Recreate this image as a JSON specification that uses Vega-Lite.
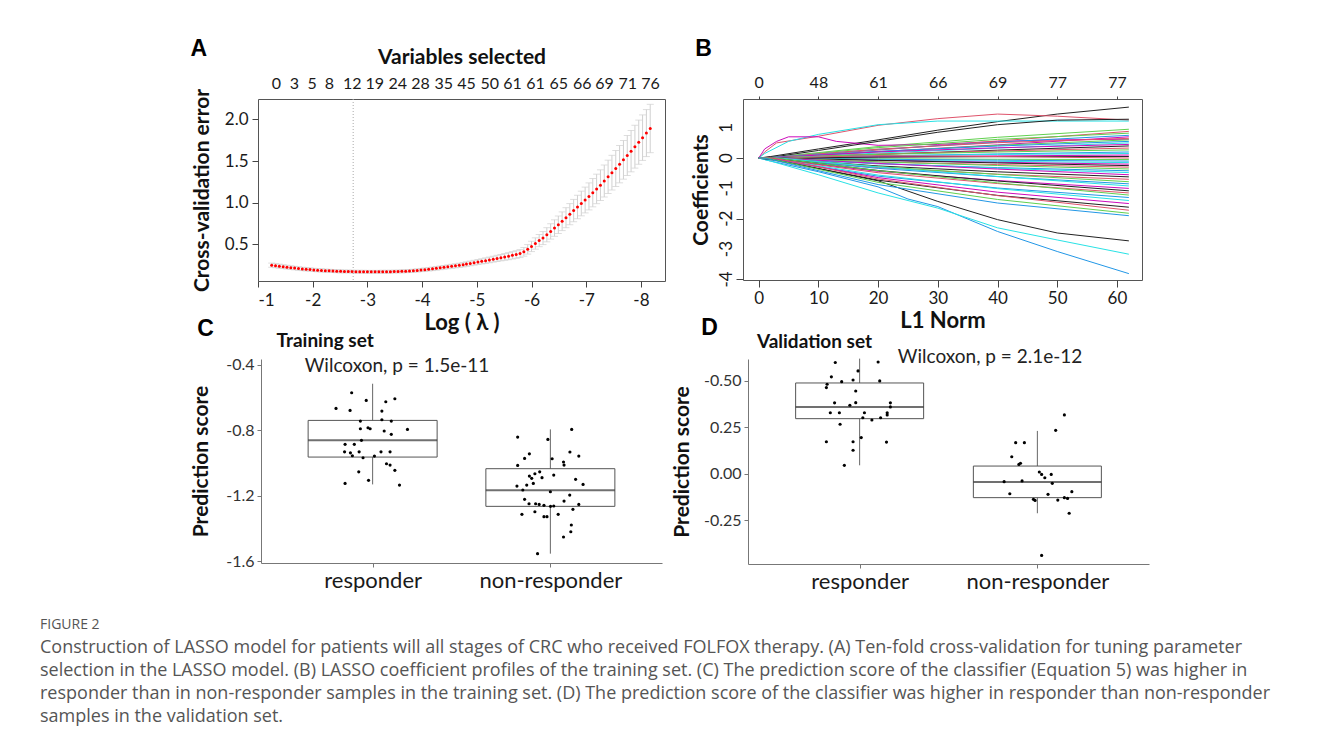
{
"padding": {"left": 40, "top": 37, "right": 0, "bottom": 0},
"background": "white",
"spacing": -24,
"config": {
  "view": {"stroke": null},
  "font": "Lato",
  "axis": {"grid": false, "labelFont": "Lato", "titleFont": "Lato", "labelColor": "#1a1a1a", "titleColor": "#111", "tickColor": "#444", "domainColor": "#444", "labelOverlap": false},
  "text": {"font": "Lato"}
},
"datasets": {
  "cv": [
{"lam":-1.25,"cvm":0.250,"cvsd":0.025},{"lam":-1.32,"cvm":0.244,"cvsd":0.024},{"lam":-1.39,"cvm":0.238,"cvsd":0.024},{"lam":-1.46,"cvm":0.232,"cvsd":0.023},{"lam":-1.53,"cvm":0.226,"cvsd":0.023},
{"lam":-1.60,"cvm":0.220,"cvsd":0.022},{"lam":-1.67,"cvm":0.215,"cvsd":0.021},{"lam":-1.74,"cvm":0.210,"cvsd":0.021},{"lam":-1.81,"cvm":0.205,"cvsd":0.020},{"lam":-1.88,"cvm":0.201,"cvsd":0.020},
{"lam":-1.95,"cvm":0.197,"cvsd":0.020},{"lam":-2.02,"cvm":0.193,"cvsd":0.019},{"lam":-2.09,"cvm":0.190,"cvsd":0.019},{"lam":-2.16,"cvm":0.187,"cvsd":0.019},{"lam":-2.23,"cvm":0.184,"cvsd":0.018},
{"lam":-2.30,"cvm":0.182,"cvsd":0.018},{"lam":-2.37,"cvm":0.180,"cvsd":0.018},{"lam":-2.44,"cvm":0.178,"cvsd":0.018},{"lam":-2.51,"cvm":0.176,"cvsd":0.018},{"lam":-2.58,"cvm":0.175,"cvsd":0.017},
{"lam":-2.65,"cvm":0.174,"cvsd":0.017},{"lam":-2.72,"cvm":0.173,"cvsd":0.017},{"lam":-2.79,"cvm":0.172,"cvsd":0.017},{"lam":-2.86,"cvm":0.171,"cvsd":0.017},{"lam":-2.93,"cvm":0.171,"cvsd":0.017},
{"lam":-3.00,"cvm":0.170,"cvsd":0.017},{"lam":-3.07,"cvm":0.170,"cvsd":0.017},{"lam":-3.14,"cvm":0.170,"cvsd":0.017},{"lam":-3.21,"cvm":0.170,"cvsd":0.017},{"lam":-3.28,"cvm":0.171,"cvsd":0.017},
{"lam":-3.35,"cvm":0.171,"cvsd":0.017},{"lam":-3.42,"cvm":0.172,"cvsd":0.017},{"lam":-3.49,"cvm":0.173,"cvsd":0.017},{"lam":-3.56,"cvm":0.174,"cvsd":0.017},{"lam":-3.63,"cvm":0.176,"cvsd":0.018},
{"lam":-3.70,"cvm":0.178,"cvsd":0.018},{"lam":-3.77,"cvm":0.180,"cvsd":0.018},{"lam":-3.84,"cvm":0.183,"cvsd":0.018},{"lam":-3.91,"cvm":0.187,"cvsd":0.019},{"lam":-3.98,"cvm":0.192,"cvsd":0.019},
{"lam":-4.05,"cvm":0.196,"cvsd":0.020},{"lam":-4.12,"cvm":0.201,"cvsd":0.020},{"lam":-4.19,"cvm":0.206,"cvsd":0.021},{"lam":-4.26,"cvm":0.212,"cvsd":0.021},{"lam":-4.33,"cvm":0.218,"cvsd":0.022},
{"lam":-4.40,"cvm":0.224,"cvsd":0.022},{"lam":-4.47,"cvm":0.230,"cvsd":0.023},{"lam":-4.54,"cvm":0.236,"cvsd":0.024},{"lam":-4.61,"cvm":0.242,"cvsd":0.024},{"lam":-4.68,"cvm":0.248,"cvsd":0.025},
{"lam":-4.75,"cvm":0.255,"cvsd":0.026},{"lam":-4.81,"cvm":0.263,"cvsd":0.027},{"lam":-4.88,"cvm":0.271,"cvsd":0.028},{"lam":-4.95,"cvm":0.279,"cvsd":0.029},{"lam":-5.02,"cvm":0.288,"cvsd":0.030},
{"lam":-5.09,"cvm":0.296,"cvsd":0.031},{"lam":-5.16,"cvm":0.304,"cvsd":0.033},{"lam":-5.23,"cvm":0.313,"cvsd":0.034},{"lam":-5.30,"cvm":0.322,"cvsd":0.035},{"lam":-5.37,"cvm":0.331,"cvsd":0.037},
{"lam":-5.44,"cvm":0.340,"cvsd":0.038},{"lam":-5.51,"cvm":0.349,"cvsd":0.040},{"lam":-5.58,"cvm":0.358,"cvsd":0.042},{"lam":-5.65,"cvm":0.368,"cvsd":0.044},{"lam":-5.72,"cvm":0.378,"cvsd":0.046},
{"lam":-5.79,"cvm":0.389,"cvsd":0.048},{"lam":-5.86,"cvm":0.410,"cvsd":0.052},{"lam":-5.93,"cvm":0.440,"cvsd":0.057},{"lam":-6.00,"cvm":0.475,"cvsd":0.062},{"lam":-6.07,"cvm":0.510,"cvsd":0.068},
{"lam":-6.14,"cvm":0.545,"cvsd":0.073},{"lam":-6.21,"cvm":0.575,"cvsd":0.078},{"lam":-6.28,"cvm":0.615,"cvsd":0.085},{"lam":-6.35,"cvm":0.655,"cvsd":0.092},{"lam":-6.42,"cvm":0.695,"cvsd":0.099},
{"lam":-6.49,"cvm":0.735,"cvsd":0.105},{"lam":-6.56,"cvm":0.777,"cvsd":0.112},{"lam":-6.63,"cvm":0.820,"cvsd":0.120},{"lam":-6.70,"cvm":0.862,"cvsd":0.127},{"lam":-6.77,"cvm":0.905,"cvsd":0.134},
{"lam":-6.84,"cvm":0.948,"cvsd":0.141},{"lam":-6.91,"cvm":0.990,"cvsd":0.148},{"lam":-6.98,"cvm":1.032,"cvsd":0.155},{"lam":-7.05,"cvm":1.075,"cvsd":0.162},{"lam":-7.12,"cvm":1.120,"cvsd":0.170},
{"lam":-7.19,"cvm":1.165,"cvsd":0.177},{"lam":-7.26,"cvm":1.210,"cvsd":0.184},{"lam":-7.33,"cvm":1.260,"cvsd":0.192},{"lam":-7.40,"cvm":1.310,"cvsd":0.200},{"lam":-7.47,"cvm":1.360,"cvsd":0.208},
{"lam":-7.54,"cvm":1.410,"cvsd":0.216},{"lam":-7.61,"cvm":1.462,"cvsd":0.224},{"lam":-7.68,"cvm":1.514,"cvsd":0.232},{"lam":-7.75,"cvm":1.566,"cvsd":0.240},{"lam":-7.82,"cvm":1.618,"cvsd":0.248},
{"lam":-7.89,"cvm":1.672,"cvsd":0.257},{"lam":-7.96,"cvm":1.726,"cvsd":0.265},{"lam":-8.03,"cvm":1.780,"cvsd":0.273},{"lam":-8.10,"cvm":1.835,"cvsd":0.282},{"lam":-8.17,"cvm":1.890,"cvsd":0.290}
  ],
  "nz": [
{"lam":-1.329,"nvar":0},{"lam":-1.658,"nvar":3},{"lam":-1.982,"nvar":5},{"lam":-2.298,"nvar":8},{"lam":-2.713,"nvar":12},{"lam":-3.126,"nvar":19},
{"lam":-3.547,"nvar":24},{"lam":-3.962,"nvar":28},{"lam":-4.388,"nvar":35},{"lam":-4.803,"nvar":45},{"lam":-5.229,"nvar":50},{"lam":-5.644,"nvar":61},
{"lam":-6.064,"nvar":61},{"lam":-6.49,"nvar":65},{"lam":-6.918,"nvar":66},{"lam":-7.325,"nvar":69},{"lam":-7.751,"nvar":71},{"lam":-8.166,"nvar":76}
  ],
  "ylabB": [{"v":1,"lab":"1"},{"v":0,"lab":"0"},{"v":-1,"lab":"-1"},{"v":-2,"lab":"-2"},{"v":-3,"lab":"-3"},{"v":-4,"lab":"-4"}],
  "paths": [
{"var":1,"norm":0,"coef":0},{"var":1,"norm":2,"coef":0.05},{"var":1,"norm":10,"coef":0.3},{"var":1,"norm":20,"coef":0.6},{"var":1,"norm":30,"coef":0.92},{"var":1,"norm":40,"coef":1.2},{"var":1,"norm":50,"coef":1.45},{"var":1,"norm":62,"coef":1.68},
{"var":2,"norm":0,"coef":0},{"var":2,"norm":1,"coef":0.2},{"var":2,"norm":3,"coef":0.5},{"var":2,"norm":10,"coef":0.72},{"var":2,"norm":20,"coef":1.08},{"var":2,"norm":30,"coef":1.3},{"var":2,"norm":40,"coef":1.45},{"var":2,"norm":50,"coef":1.38},{"var":2,"norm":62,"coef":1.25},
{"var":3,"norm":0,"coef":0},{"var":3,"norm":1,"coef":0},{"var":3,"norm":20,"coef":0.38},{"var":3,"norm":40,"coef":0.684},{"var":3,"norm":62,"coef":0.95},
{"var":4,"norm":0,"coef":0},{"var":4,"norm":2,"coef":-0.1},{"var":4,"norm":10,"coef":-0.45},{"var":4,"norm":20,"coef":-0.95},{"var":4,"norm":25,"coef":-1.35},{"var":4,"norm":30,"coef":-1.6},{"var":4,"norm":40,"coef":-2.42},{"var":4,"norm":50,"coef":-3.08},{"var":4,"norm":62,"coef":-3.81},
{"var":5,"norm":0,"coef":0},{"var":5,"norm":1,"coef":0.15},{"var":5,"norm":5,"coef":0.55},{"var":5,"norm":10,"coef":0.78},{"var":5,"norm":20,"coef":1.1},{"var":5,"norm":30,"coef":1.22},{"var":5,"norm":40,"coef":1.22},{"var":5,"norm":50,"coef":1.22},{"var":5,"norm":62,"coef":1.22},
{"var":6,"norm":0,"coef":0},{"var":6,"norm":1,"coef":0.3},{"var":6,"norm":3,"coef":0.55},{"var":6,"norm":5,"coef":0.7},{"var":6,"norm":10,"coef":0.7},{"var":6,"norm":13,"coef":0.55},{"var":6,"norm":20,"coef":0.42},{"var":6,"norm":30,"coef":0.45},{"var":6,"norm":40,"coef":0.55},{"var":6,"norm":50,"coef":0.6},{"var":6,"norm":62,"coef":0.62},
{"var":7,"norm":0,"coef":0},{"var":7,"norm":3,"coef":0.05},{"var":7,"norm":10,"coef":0.25},{"var":7,"norm":20,"coef":0.55},{"var":7,"norm":30,"coef":0.85},{"var":7,"norm":40,"coef":1.1},{"var":7,"norm":50,"coef":1.25},{"var":7,"norm":62,"coef":1.28},
{"var":8,"norm":0,"coef":0},{"var":8,"norm":2.5,"coef":0},{"var":8,"norm":20,"coef":0.264},{"var":8,"norm":40,"coef":0.563},{"var":8,"norm":62,"coef":0.88},
{"var":9,"norm":0,"coef":0},{"var":9,"norm":1.5,"coef":0},{"var":9,"norm":20,"coef":0.344},{"var":9,"norm":40,"coef":0.615},{"var":9,"norm":62,"coef":0.82},
{"var":10,"norm":0,"coef":0},{"var":10,"norm":0.8,"coef":0},{"var":10,"norm":20,"coef":0.285},{"var":10,"norm":40,"coef":0.525},{"var":10,"norm":62,"coef":0.75},
{"var":11,"norm":0,"coef":0},{"var":11,"norm":2,"coef":-0.1},{"var":11,"norm":10,"coef":-0.55},{"var":11,"norm":20,"coef":-1.15},{"var":11,"norm":30,"coef":-1.65},{"var":11,"norm":40,"coef":-2.3},{"var":11,"norm":50,"coef":-2.7},{"var":11,"norm":62,"coef":-3.17},
{"var":12,"norm":0,"coef":0},{"var":12,"norm":3,"coef":0},{"var":12,"norm":20,"coef":0.21},{"var":12,"norm":40,"coef":0.434},{"var":12,"norm":62,"coef":0.7},
{"var":13,"norm":0,"coef":0},{"var":13,"norm":3,"coef":-0.08},{"var":13,"norm":10,"coef":-0.35},{"var":13,"norm":20,"coef":-0.75},{"var":13,"norm":30,"coef":-1.43},{"var":13,"norm":40,"coef":-2.03},{"var":13,"norm":50,"coef":-2.47},{"var":13,"norm":62,"coef":-2.73},
{"var":14,"norm":0,"coef":0},{"var":14,"norm":1.2,"coef":0},{"var":14,"norm":20,"coef":0.293},{"var":14,"norm":40,"coef":0.507},{"var":14,"norm":62,"coef":0.65},
{"var":15,"norm":0,"coef":0},{"var":15,"norm":2,"coef":0},{"var":15,"norm":20,"coef":0.21},{"var":15,"norm":40,"coef":0.42},{"var":15,"norm":62,"coef":0.6},
{"var":16,"norm":0,"coef":0},{"var":16,"norm":0.6,"coef":0},{"var":16,"norm":20,"coef":0.22},{"var":16,"norm":40,"coef":0.396},{"var":16,"norm":62,"coef":0.55},
{"var":17,"norm":0,"coef":0},{"var":17,"norm":2.8,"coef":0},{"var":17,"norm":20,"coef":0.165},{"var":17,"norm":40,"coef":0.33},{"var":17,"norm":62,"coef":0.5},
{"var":18,"norm":0,"coef":0},{"var":18,"norm":1,"coef":0},{"var":18,"norm":20,"coef":0.203},{"var":18,"norm":40,"coef":0.338},{"var":18,"norm":62,"coef":0.45},
{"var":19,"norm":0,"coef":0},{"var":19,"norm":3.5,"coef":0},{"var":19,"norm":20,"coef":0.12},{"var":19,"norm":40,"coef":0.26},{"var":19,"norm":62,"coef":0.4},
{"var":20,"norm":0,"coef":0},{"var":20,"norm":1.8,"coef":0},{"var":20,"norm":20,"coef":0.132},{"var":20,"norm":40,"coef":0.231},{"var":20,"norm":62,"coef":0.33},
{"var":21,"norm":0,"coef":0},{"var":21,"norm":0.9,"coef":0},{"var":21,"norm":20,"coef":0.122},{"var":21,"norm":40,"coef":0.2},{"var":21,"norm":62,"coef":0.27},
{"var":22,"norm":0,"coef":0},{"var":22,"norm":2.2,"coef":0},{"var":22,"norm":20,"coef":0.07},{"var":22,"norm":40,"coef":0.136},{"var":22,"norm":62,"coef":0.2},
{"var":23,"norm":0,"coef":0},{"var":23,"norm":1.4,"coef":0},{"var":23,"norm":20,"coef":0.075},{"var":23,"norm":40,"coef":0.12},{"var":23,"norm":62,"coef":0.15},
{"var":24,"norm":0,"coef":0},{"var":24,"norm":3,"coef":0},{"var":24,"norm":20,"coef":0.04},{"var":24,"norm":40,"coef":0.07},{"var":24,"norm":62,"coef":0.1},
{"var":25,"norm":0,"coef":0},{"var":25,"norm":0.7,"coef":0},{"var":25,"norm":20,"coef":0.03},{"var":25,"norm":40,"coef":0.045},{"var":25,"norm":62,"coef":0.05},
{"var":26,"norm":0,"coef":0},{"var":26,"norm":2,"coef":0},{"var":26,"norm":20,"coef":0.08},{"var":26,"norm":40,"coef":0.05},{"var":26,"norm":62,"coef":0},
{"var":27,"norm":0,"coef":0},{"var":27,"norm":1.1,"coef":0},{"var":27,"norm":20,"coef":-0.025},{"var":27,"norm":40,"coef":-0.04},{"var":27,"norm":62,"coef":-0.05},
{"var":28,"norm":0,"coef":0},{"var":28,"norm":2.6,"coef":0},{"var":28,"norm":20,"coef":-0.04},{"var":28,"norm":40,"coef":-0.07},{"var":28,"norm":62,"coef":-0.1},
{"var":29,"norm":0,"coef":0},{"var":29,"norm":0.5,"coef":0},{"var":29,"norm":20,"coef":-0.068},{"var":29,"norm":40,"coef":-0.108},{"var":29,"norm":62,"coef":-0.15},
{"var":30,"norm":0,"coef":0},{"var":30,"norm":1.7,"coef":0},{"var":30,"norm":20,"coef":-0.076},{"var":30,"norm":40,"coef":-0.14},{"var":30,"norm":62,"coef":-0.2},
{"var":31,"norm":0,"coef":0},{"var":31,"norm":3.2,"coef":0},{"var":31,"norm":20,"coef":-0.075},{"var":31,"norm":40,"coef":-0.16},{"var":31,"norm":62,"coef":-0.25},
{"var":32,"norm":0,"coef":0},{"var":32,"norm":1,"coef":0},{"var":32,"norm":20,"coef":-0.126},{"var":32,"norm":40,"coef":-0.216},{"var":32,"norm":62,"coef":-0.3},
{"var":33,"norm":0,"coef":0},{"var":33,"norm":2.4,"coef":0},{"var":33,"norm":20,"coef":-0.126},{"var":33,"norm":40,"coef":-0.245},{"var":33,"norm":62,"coef":-0.36},
{"var":34,"norm":0,"coef":0},{"var":34,"norm":0.8,"coef":0},{"var":34,"norm":20,"coef":-0.189},{"var":34,"norm":40,"coef":-0.315},{"var":34,"norm":62,"coef":-0.42},
{"var":35,"norm":0,"coef":0},{"var":35,"norm":1.9,"coef":0},{"var":35,"norm":20,"coef":-0.173},{"var":35,"norm":40,"coef":-0.336},{"var":35,"norm":62,"coef":-0.48},
{"var":36,"norm":0,"coef":0},{"var":36,"norm":2.9,"coef":0},{"var":36,"norm":20,"coef":-0.176},{"var":36,"norm":40,"coef":-0.363},{"var":36,"norm":62,"coef":-0.55},
{"var":37,"norm":0,"coef":0},{"var":37,"norm":1.3,"coef":0},{"var":37,"norm":20,"coef":-0.26},{"var":37,"norm":40,"coef":-0.453},{"var":37,"norm":62,"coef":-0.62},
{"var":38,"norm":0,"coef":0},{"var":38,"norm":0.6,"coef":0},{"var":38,"norm":20,"coef":-0.315},{"var":38,"norm":40,"coef":-0.532},{"var":38,"norm":62,"coef":-0.7},
{"var":39,"norm":0,"coef":0},{"var":39,"norm":2.1,"coef":0},{"var":39,"norm":20,"coef":-0.281},{"var":39,"norm":40,"coef":-0.538},{"var":39,"norm":62,"coef":-0.78},
{"var":40,"norm":0,"coef":0},{"var":40,"norm":1.6,"coef":0},{"var":40,"norm":20,"coef":-0.34},{"var":40,"norm":40,"coef":-0.612},{"var":40,"norm":62,"coef":-0.85},
{"var":41,"norm":0,"coef":0},{"var":41,"norm":3.3,"coef":0},{"var":41,"norm":20,"coef":-0.294},{"var":41,"norm":40,"coef":-0.607},{"var":41,"norm":62,"coef":-0.92},
{"var":42,"norm":0,"coef":0},{"var":42,"norm":0.9,"coef":0},{"var":42,"norm":20,"coef":-0.44},{"var":42,"norm":40,"coef":-0.74},{"var":42,"norm":62,"coef":-1.0},
{"var":43,"norm":0,"coef":0},{"var":43,"norm":2.3,"coef":0},{"var":43,"norm":20,"coef":-0.41},{"var":43,"norm":40,"coef":-0.756},{"var":43,"norm":62,"coef":-1.08},
{"var":44,"norm":0,"coef":0},{"var":44,"norm":1.2,"coef":0},{"var":44,"norm":20,"coef":-0.483},{"var":44,"norm":40,"coef":-0.84},{"var":44,"norm":62,"coef":-1.15},
{"var":45,"norm":0,"coef":0},{"var":45,"norm":2.7,"coef":0},{"var":45,"norm":20,"coef":-0.415},{"var":45,"norm":40,"coef":-0.817},{"var":45,"norm":62,"coef":-1.22},
{"var":46,"norm":0,"coef":0},{"var":46,"norm":0.7,"coef":0},{"var":46,"norm":20,"coef":-0.598},{"var":46,"norm":40,"coef":-0.988},{"var":46,"norm":62,"coef":-1.3},
{"var":47,"norm":0,"coef":0},{"var":47,"norm":1.5,"coef":0},{"var":47,"norm":20,"coef":-0.56},{"var":47,"norm":40,"coef":-1.008},{"var":47,"norm":62,"coef":-1.4},
{"var":48,"norm":0,"coef":0},{"var":48,"norm":2,"coef":0},{"var":48,"norm":20,"coef":-0.645},{"var":48,"norm":40,"coef":-1.125},{"var":48,"norm":62,"coef":-1.5},
{"var":49,"norm":0,"coef":0},{"var":49,"norm":1.1,"coef":0},{"var":49,"norm":20,"coef":-0.729},{"var":49,"norm":40,"coef":-1.231},{"var":49,"norm":62,"coef":-1.62},
{"var":50,"norm":0,"coef":0},{"var":50,"norm":2.5,"coef":0},{"var":50,"norm":20,"coef":-0.688},{"var":50,"norm":40,"coef":-1.238},{"var":50,"norm":62,"coef":-1.72},
{"var":51,"norm":0,"coef":0},{"var":51,"norm":1.4,"coef":0},{"var":51,"norm":20,"coef":-0.801},{"var":51,"norm":40,"coef":-1.365},{"var":51,"norm":62,"coef":-1.82},
{"var":52,"norm":0,"coef":0},{"var":52,"norm":0.9,"coef":0},{"var":52,"norm":20,"coef":-0.874},{"var":52,"norm":40,"coef":-1.482},{"var":52,"norm":62,"coef":-1.9}
  ],
  "df": [{"norm":0,"df":0},{"norm":10,"df":48},{"norm":20,"df":61},{"norm":30,"df":66},{"norm":40,"df":69},{"norm":50,"df":77},{"norm":60,"df":77}],
  "boxC": [{"g":1,"lo":-1.132,"q1":-0.965,"med":-0.863,"q3":-0.741,"hi":-0.517},{"g":2,"lo":-1.555,"q1":-1.266,"med":-1.168,"q3":-1.036,"hi":-0.796}],
  "ptsC": [
{"x":0.882,"y":-0.572},{"x":0.964,"y":-0.619},{"x":0.794,"y":-0.668},{"x":0.873,"y":-0.680},{"x":1.125,"y":-0.609},{"x":1.074,"y":-0.627},{"x":1.052,"y":-0.684},{"x":0.931,"y":-0.745},{"x":1.052,"y":-0.737},{"x":1.105,"y":-0.745},
{"x":0.931,"y":-0.792},{"x":0.974,"y":-0.786},{"x":0.986,"y":-0.792},{"x":1.065,"y":-0.806},{"x":1.196,"y":-0.796},{"x":1.105,"y":-0.826},{"x":0.845,"y":-0.887},{"x":0.937,"y":-0.863},{"x":0.897,"y":-0.887},{"x":0.842,"y":-0.933},
{"x":0.875,"y":-0.939},{"x":0.924,"y":-0.933},{"x":0.886,"y":-0.957},{"x":0.946,"y":-0.969},{"x":1.047,"y":-0.933},{"x":1.098,"y":-0.933},{"x":1.010,"y":-0.959},{"x":1.098,"y":-1.014},{"x":1.078,"y":-1.006},{"x":0.922,"y":-1.055},
{"x":1.125,"y":-1.046},{"x":0.977,"y":-1.107},{"x":0.845,"y":-1.126},{"x":1.151,"y":-1.136},
{"x":2.120,"y":-0.796},{"x":1.986,"y":-0.857},{"x":1.816,"y":-0.843},{"x":1.882,"y":-0.945},{"x":1.855,"y":-0.973},{"x":2.110,"y":-0.934},{"x":2.160,"y":-0.959},{"x":2.010,"y":-0.975},{"x":1.816,"y":-1.016},{"x":2.074,"y":-0.995},
{"x":2.077,"y":-1.014},{"x":2.019,"y":-1.075},{"x":1.882,"y":-1.081},{"x":1.913,"y":-1.067},{"x":1.940,"y":-1.055},{"x":1.953,"y":-1.091},{"x":1.895,"y":-1.095},{"x":1.904,"y":-1.126},{"x":2.142,"y":-1.101},{"x":2.184,"y":-1.132},
{"x":1.812,"y":-1.142},{"x":1.867,"y":-1.136},{"x":1.845,"y":-1.166},{"x":2.000,"y":-1.177},{"x":2.109,"y":-1.197},{"x":2.160,"y":-1.254},{"x":1.855,"y":-1.223},{"x":1.880,"y":-1.250},{"x":1.917,"y":-1.250},{"x":1.937,"y":-1.254},
{"x":1.964,"y":-1.260},{"x":2.001,"y":-1.266},{"x":2.019,"y":-1.264},{"x":2.077,"y":-1.234},{"x":2.127,"y":-1.284},{"x":1.913,"y":-1.299},{"x":1.840,"y":-1.315},{"x":1.964,"y":-1.329},{"x":1.981,"y":-1.329},{"x":2.044,"y":-1.315},
{"x":2.118,"y":-1.380},{"x":2.115,"y":-1.421},{"x":2.074,"y":-1.453},{"x":1.928,"y":-1.555}
  ],
  "boxD": [{"g":1,"lo":0.046,"q1":0.297,"med":0.360,"q3":0.489,"hi":0.62},{"g":2,"lo":-0.212,"q1":-0.128,"med":-0.044,"q3":0.042,"hi":0.231}],
  "ptsD": [
{"x":0.863,"y":0.599},{"x":1.104,"y":0.602},{"x":0.841,"y":0.522},{"x":0.991,"y":0.554},{"x":0.899,"y":0.496},{"x":0.963,"y":0.505},{"x":1.113,"y":0.500},{"x":0.817,"y":0.482},{"x":0.813,"y":0.464},{"x":0.978,"y":0.446},
{"x":0.859,"y":0.382},{"x":0.978,"y":0.383},{"x":0.945,"y":0.369},{"x":1.173,"y":0.382},{"x":0.835,"y":0.329},{"x":0.886,"y":0.329},{"x":1.027,"y":0.329},{"x":1.173,"y":0.360},{"x":1.155,"y":0.329},{"x":0.890,"y":0.267},
{"x":1.018,"y":0.302},{"x":1.069,"y":0.290},{"x":1.118,"y":0.302},{"x":1.155,"y":0.317},{"x":0.813,"y":0.173},{"x":0.963,"y":0.173},{"x":1.009,"y":0.195},{"x":1.151,"y":0.171},{"x":0.963,"y":0.127},{"x":0.914,"y":0.046},
{"x":2.152,"y":0.317},{"x":2.103,"y":0.234},{"x":1.878,"y":0.168},{"x":1.927,"y":0.168},{"x":1.856,"y":0.092},{"x":1.896,"y":0.051},{"x":1.905,"y":0.057},{"x":2.011,"y":0.010},{"x":2.024,"y":-0.003},{"x":2.042,"y":-0.021},
{"x":2.078,"y":-0.003},{"x":1.813,"y":-0.042},{"x":1.914,"y":-0.038},{"x":2.084,"y":-0.051},{"x":1.845,"y":-0.107},{"x":1.978,"y":-0.137},{"x":1.987,"y":-0.143},{"x":2.060,"y":-0.110},{"x":2.115,"y":-0.141},{"x":2.152,"y":-0.128},
{"x":2.170,"y":-0.132},{"x":2.194,"y":-0.096},{"x":2.179,"y":-0.212},{"x":2.024,"y":-0.439}
  ],
  "caption": [
{"line":1,"text":"Construction of LASSO model for patients will all stages of CRC who received FOLFOX therapy. (A) Ten-fold cross-validation for tuning parameter"},
{"line":2,"text":"selection in the LASSO model. (B) LASSO coefficient profiles of the training set. (C) The prediction score of the classifier (Equation 5) was higher in"},
{"line":3,"text":"responder than in non-responder samples in the training set. (D) The prediction score of the classifier was higher in responder than non-responder"},
{"line":4,"text":"samples in the validation set."}
  ]
},
"vconcat": [
 {
  "bounds": "flush",
  "spacing": 78,
  "hconcat": [
   {"width": 140, "height": 242, "data": {"values": [{}]}, "mark": {"type": "point", "opacity": 0}, "encoding": {}},
   {
    "width": 407, "height": 182,
    "view": {"stroke": "#555", "strokeWidth": 1},
    "resolve": {"scale": {"x": "independent"}, "axis": {"x": "independent"}},
    "layer": [
     {
      "layer": [
       {"data": {"name": "cv"},
        "mark": {"type": "errorbar", "ticks": {"size": 7, "color": "#d0d0d0"}, "rule": {"color": "#d0d0d0"}, "color": "#d0d0d0"},
        "encoding": {
         "x": {"field": "lam", "type": "quantitative", "scale": {"domain": [-8.44, -1], "reverse": true, "nice": false, "zero": false},
               "axis": {"orient": "bottom", "values": [-1,-2,-3,-4,-5,-6,-7,-8], "labelExpr": "'-' + abs(datum.value)", "domain": false, "tickSize": 6, "labelPadding": 5, "labelFontSize": 17, "title": "Log ( λ )", "titleFontSize": 22, "titleFontWeight": "bold", "titlePadding": 4}},
         "y": {"field": "cvm", "type": "quantitative", "scale": {"domain": [0.06, 2.244], "nice": false, "zero": false},
               "axis": {"values": [0.5, 1, 1.5, 2], "format": ".1f", "domain": false, "tickSize": 6, "labelPadding": 4, "labelFontSize": 17, "title": "Cross-validation error", "titleFontSize": 21, "titleFontWeight": "bold", "titlePadding": 12}},
         "yError": {"field": "cvsd"}
        }},
       {"data": {"name": "cv"}, "mark": {"type": "point", "filled": true, "color": "#ff0000", "size": 9, "opacity": 1},
        "encoding": {"x": {"field": "lam", "type": "quantitative"}, "y": {"field": "cvm", "type": "quantitative"}}},
       {"data": {"values": [{"lamMin": -2.74}]}, "mark": {"type": "rule", "color": "#aaaaaa", "strokeDash": [1, 2], "strokeWidth": 1},
        "encoding": {"x": {"field": "lamMin", "type": "quantitative"}}},
       {"data": {"values": [{"t": "A"}]}, "mark": {"type": "text", "font": "Liberation Sans", "fontWeight": "bold", "fontSize": 23, "align": "center", "baseline": "middle", "color": "#000"},
        "encoding": {"x": {"datum": 0.08}, "y": {"datum": 2.84}, "text": {"field": "t"}}}
      ]
     },
     {"data": {"name": "nz"}, "mark": {"type": "point", "opacity": 0},
      "encoding": {
       "x": {"field": "lam", "type": "quantitative", "scale": {"domain": [-8.44, -1], "reverse": true, "nice": false, "zero": false},
             "axis": {"orient": "top", "values": [-1.329,-1.658,-1.982,-2.298,-2.713,-3.126,-3.547,-3.962,-4.388,-4.803,-5.229,-5.644,-6.064,-6.49,-6.918,-7.325,-7.751,-8.166],
                      "labelExpr": "['0','3','5','8','12','19','24','28','35','45','50','61','61','65','66','69','71','76'][indexof([-1.329,-1.658,-1.982,-2.298,-2.713,-3.126,-3.547,-3.962,-4.388,-4.803,-5.229,-5.644,-6.064,-6.49,-6.918,-7.325,-7.751,-8.166], datum.value)]",
                      "ticks": false, "tickSize": 0, "domain": false, "labelPadding": 8, "labelFontSize": 16, "labelOverlap": false, "title": "Variables selected", "titleFontSize": 21, "titleFontWeight": "bold", "titlePadding": 8}}
      }}
    ]
   },
   {
    "width": 399, "height": 181,
    "view": {"stroke": "#555", "strokeWidth": 1},
    "resolve": {"scale": {"x": "independent"}, "axis": {"x": "independent"}},
    "layer": [
     {
      "layer": [
       {"data": {"name": "paths"}, "mark": {"type": "line", "strokeWidth": 1},
        "encoding": {
         "x": {"field": "norm", "type": "quantitative", "scale": {"domain": [-2.63, 64.2], "nice": false, "zero": false},
               "axis": {"orient": "bottom", "values": [0,10,20,30,40,50,60], "domain": false, "tickSize": 7, "labelPadding": 3, "labelFontSize": 17, "title": "L1 Norm", "titleFontSize": 22, "titleFontWeight": "bold", "titlePadding": 4}},
         "y": {"field": "coef", "type": "quantitative", "scale": {"domain": [-4.02, 1.947], "nice": false, "zero": false},
               "axis": {"values": [1,0,-1,-2,-3,-4], "labels": false, "domain": false, "tickSize": 7, "title": "Coefficients", "titleFontSize": 21, "titleFontWeight": "bold", "titlePadding": 24}},
         "color": {"field": "var", "type": "nominal", "legend": null, "scale": {"range": ["#222222", "#DF536B", "#61D04F", "#2297E6", "#28E2E5", "#CD0BBC"]}},
         "detail": {"field": "var"},
         "order": {"field": "norm", "type": "quantitative"}
        }},
       {"data": {"name": "ylabB"}, "mark": {"type": "text", "angle": -90, "fontSize": 17, "align": "center", "baseline": "middle", "color": "#1a1a1a"},
        "encoding": {"x": {"datum": -5.23}, "y": {"field": "v", "type": "quantitative"}, "text": {"field": "lab"}}},
       {"data": {"values": [{"t": "B"}]}, "mark": {"type": "text", "font": "Liberation Sans", "fontWeight": "bold", "fontSize": 23, "align": "center", "baseline": "middle", "color": "#000"},
        "encoding": {"x": {"datum": -9.25}, "y": {"datum": 3.58}, "text": {"field": "t"}}}
      ]
     },
     {"data": {"name": "df"}, "mark": {"type": "point", "opacity": 0},
      "encoding": {
       "x": {"field": "norm", "type": "quantitative", "scale": {"domain": [-2.63, 64.2], "nice": false, "zero": false},
             "axis": {"orient": "top", "values": [0,10,20,30,40,50,60], "labelExpr": "['0','48','61','66','69','77','77'][datum.value / 10]", "domain": false, "tickSize": 3, "labelPadding": 6, "labelFontSize": 16, "title": null}}
      }}
    ]
   }
  ]
 },
 {
  "bounds": "flush",
  "spacing": 86,
  "hconcat": [
   {"width": 135, "height": 247, "data": {"values": [{}]}, "mark": {"type": "point", "opacity": 0}, "encoding": {}},
   {
    "width": 401, "height": 204,
    "layer": [
     {"data": {"name": "boxC"}, "mark": {"type": "rule", "color": "#666", "strokeWidth": 1},
      "encoding": {
       "x": {"field": "g", "type": "quantitative", "scale": {"domain": [0.4, 2.6], "nice": false, "zero": false},
             "axis": {"values": [1, 2], "labelExpr": "datum.value == 1 ? 'responder' : 'non-responder'", "domainColor": "#777", "tickColor": "#777", "tickSize": 4, "labelPadding": 3, "labelFontSize": 22, "labelColor": "#1a1a1a", "title": null}},
       "y": {"field": "lo", "type": "quantitative", "scale": {"domain": [-1.612, -0.366], "nice": false, "zero": false},
             "axis": {"values": [-0.4, -0.8, -1.2, -1.6], "labelExpr": "'-' + format(abs(datum.value), '.1f')", "domainColor": "#777", "tickColor": "#777", "tickSize": 4, "labelPadding": 3, "labelFontSize": 16, "labelColor": "#333", "title": "Prediction score", "titleFontSize": 21, "titleFontWeight": "bold", "titlePadding": 14}},
       "y2": {"field": "hi"}
      }},
     {"data": {"name": "boxC"}, "mark": {"type": "bar", "width": 129, "fill": "white", "stroke": "#555", "strokeWidth": 1},
      "encoding": {"x": {"field": "g", "type": "quantitative"}, "y": {"field": "q1", "type": "quantitative"}, "y2": {"field": "q3"}}},
     {"data": {"name": "boxC"}, "mark": {"type": "tick", "orient": "horizontal", "size": 129, "thickness": 2, "color": "#333"},
      "encoding": {"x": {"field": "g", "type": "quantitative"}, "y": {"field": "med", "type": "quantitative"}}},
     {"data": {"name": "ptsC"}, "mark": {"type": "point", "filled": true, "color": "#000", "size": 10, "opacity": 1},
      "encoding": {"x": {"field": "x", "type": "quantitative"}, "y": {"field": "y", "type": "quantitative"}}},
     {"data": {"values": [{"t": "Wilcoxon, p = 1.5e-11"}]}, "mark": {"type": "text", "fontSize": 19, "align": "left", "baseline": "middle", "color": "#222"},
      "encoding": {"x": {"datum": 0.618}, "y": {"datum": -0.409}, "text": {"field": "t"}}},
     {"data": {"values": [{"t": "Training set"}]}, "mark": {"type": "text", "fontSize": 19, "fontWeight": "bold", "align": "left", "baseline": "middle", "color": "#111"},
      "encoding": {"x": {"datum": 0.459}, "y": {"datum": -0.256}, "text": {"field": "t"}}},
     {"data": {"values": [{"t": "C"}]}, "mark": {"type": "text", "font": "Liberation Sans", "fontWeight": "bold", "fontSize": 23, "align": "center", "baseline": "middle", "color": "#000"},
      "encoding": {"x": {"datum": 0.06}, "y": {"datum": -0.18}, "text": {"field": "t"}}}
    ]
   },
   {
    "width": 401, "height": 205,
    "layer": [
     {"data": {"name": "boxD"}, "mark": {"type": "rule", "color": "#666", "strokeWidth": 1},
      "encoding": {
       "x": {"field": "g", "type": "quantitative", "scale": {"domain": [0.4, 2.6], "nice": false, "zero": false},
             "axis": {"values": [1, 2], "labelExpr": "datum.value == 1 ? 'responder' : 'non-responder'", "domainColor": "#777", "tickColor": "#777", "tickSize": 4, "labelPadding": 3, "labelFontSize": 22, "labelColor": "#1a1a1a", "title": null}},
       "y": {"field": "lo", "type": "quantitative", "scale": {"domain": [-0.485, 0.618], "nice": false, "zero": false},
             "axis": {"values": [0.5, 0.25, 0, -0.25], "labelExpr": "datum.value == 0.5 ? '-0.50' : (datum.value < 0 ? '-' : '') + format(abs(datum.value), '.2f')", "domainColor": "#777", "tickColor": "#777", "tickSize": 4, "labelPadding": 3, "labelFontSize": 16, "labelColor": "#333", "title": "Prediction score", "titleFontSize": 21, "titleFontWeight": "bold", "titlePadding": 11}},
       "y2": {"field": "hi"}
      }},
     {"data": {"name": "boxD"}, "mark": {"type": "bar", "width": 128, "fill": "white", "stroke": "#555", "strokeWidth": 1},
      "encoding": {"x": {"field": "g", "type": "quantitative"}, "y": {"field": "q1", "type": "quantitative"}, "y2": {"field": "q3"}}},
     {"data": {"name": "boxD"}, "mark": {"type": "tick", "orient": "horizontal", "size": 128, "thickness": 2, "color": "#333"},
      "encoding": {"x": {"field": "g", "type": "quantitative"}, "y": {"field": "med", "type": "quantitative"}}},
     {"data": {"name": "ptsD"}, "mark": {"type": "point", "filled": true, "color": "#000", "size": 10, "opacity": 1},
      "encoding": {"x": {"field": "x", "type": "quantitative"}, "y": {"field": "y", "type": "quantitative"}}},
     {"data": {"values": [{"t": "Wilcoxon, p = 2.1e-12"}]}, "mark": {"type": "text", "fontSize": 19, "align": "left", "baseline": "middle", "color": "#222"},
      "encoding": {"x": {"datum": 1.215}, "y": {"datum": 0.629}, "text": {"field": "t"}}},
     {"data": {"values": [{"t": "Validation set"}]}, "mark": {"type": "text", "fontSize": 19, "fontWeight": "bold", "align": "left", "baseline": "middle", "color": "#111"},
      "encoding": {"x": {"datum": 0.422}, "y": {"datum": 0.712}, "text": {"field": "t"}}},
     {"data": {"values": [{"t": "D"}]}, "mark": {"type": "text", "font": "Liberation Sans", "fontWeight": "bold", "fontSize": 23, "align": "center", "baseline": "middle", "color": "#000"},
      "encoding": {"x": {"datum": 0.155}, "y": {"datum": 0.783}, "text": {"field": "t"}}}
    ]
   }
  ]
 },
 {
  "width": 1280, "height": 120,
  "layer": [
   {"data": {"name": "caption"},
    "mark": {"type": "text", "font": "Open Sans", "fontSize": 18, "align": "left", "baseline": "middle", "color": "#555"},
    "encoding": {
     "x": {"datum": 0, "type": "quantitative", "scale": {"domain": [0, 1]}, "axis": null},
     "y": {"field": "line", "type": "quantitative", "scale": {"domain": [-0.826, 4.391], "reverse": true, "nice": false, "zero": false}, "axis": null},
     "text": {"field": "text"}
    }},
   {"data": {"values": [{"t": "FIGURE 2"}]},
    "mark": {"type": "text", "font": "Open Sans", "fontSize": 14, "align": "left", "baseline": "middle", "color": "#555"},
    "encoding": {"x": {"datum": 0, "type": "quantitative"}, "y": {"datum": 0, "type": "quantitative"}, "text": {"field": "t"}}}
  ]
 }
]
}
